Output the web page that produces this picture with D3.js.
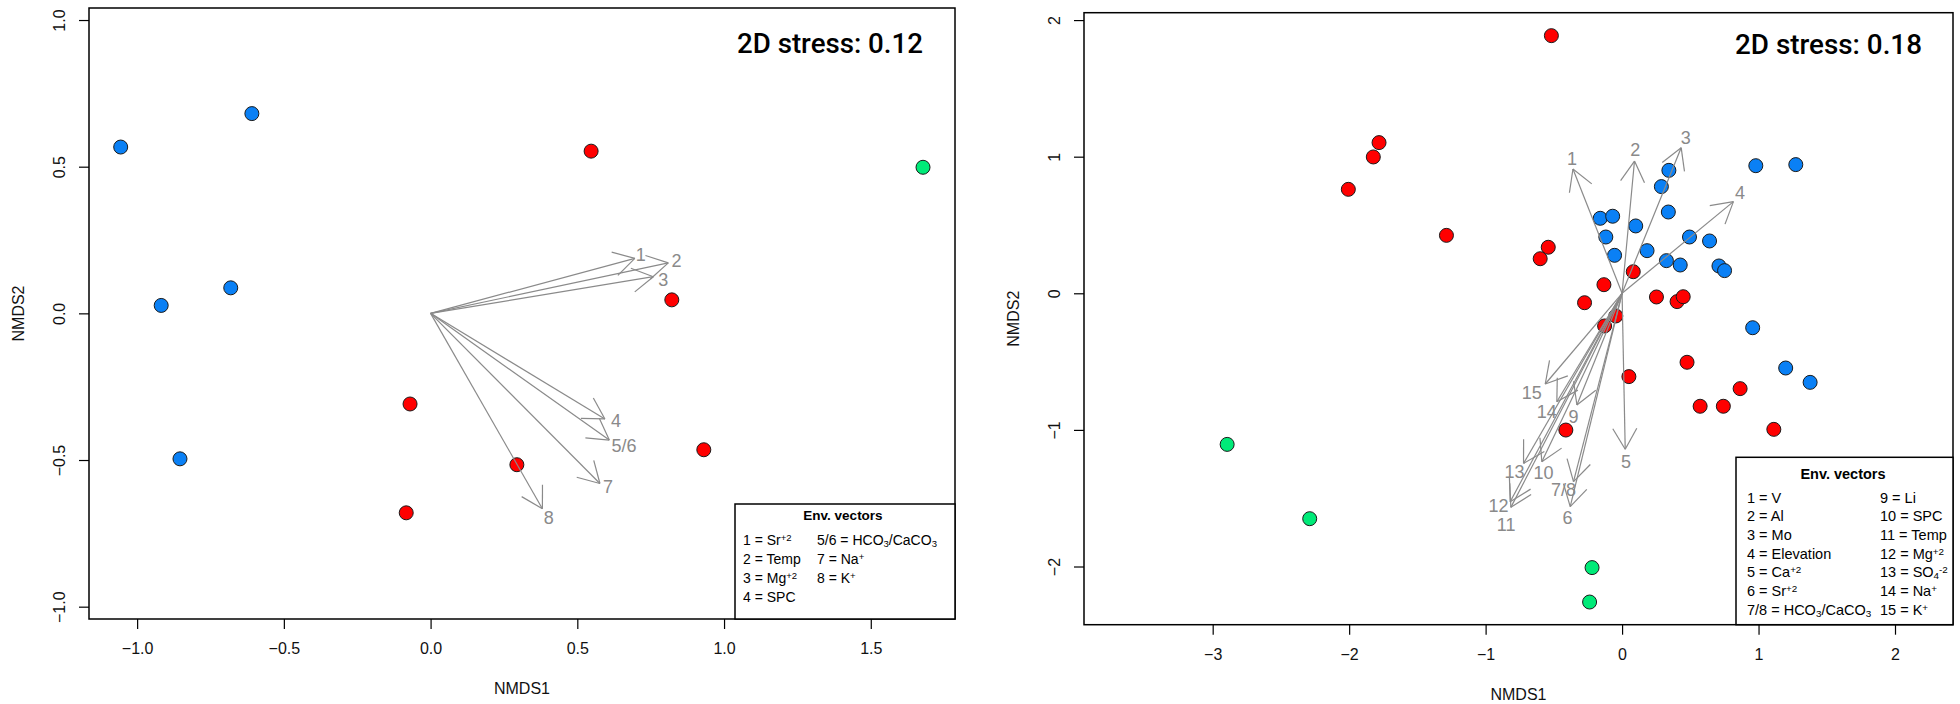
<!DOCTYPE html>
<html lang="en">
<head>
<meta charset="UTF-8">
<title>NMDS ordinations</title>
<script src="https://d3js.org/d3.v7.min.js"></script>
<style>
  body { margin: 0; background: #fff; }
  svg text { font-family: "Liberation Sans", Arial, sans-serif; }
  .tick line { stroke: #000; stroke-width: 1.2; }
  .tick text { font-size: 16px; fill: #111; }
  .axis-title { font-size: 16px; fill: #111; }
  .vec { stroke: #8a8a8a; stroke-width: 1.2; fill: none; }
  .vec-label { fill: #8a8a8a; font-size: 18px; }
  .site { stroke: #1a1a1a; stroke-width: 1; }
  .stress { font-family: Roboto, sans-serif !important; font-weight: 500; font-size: 28px; fill: #000; }
  .leg-title { font-weight: bold; }
</style>
</head>
<body>
<svg id="chart" width="1960" height="704"></svg>
<script>
// ---- left panel (2D stress 0.12) ----
const p1X = [-1.056, -0.609, -0.918, -0.681, -0.854, 0.547, 0.822, -0.070, 0.294, 0.931, -0.083, 1.678];
const p1Y = [0.567, 0.681, 0.027, 0.087, -0.496, 0.553, 0.046, -0.309, -0.516, -0.465, -0.680, 0.498];
const p1Grp = ["b", "b", "b", "b", "b", "r", "r", "r", "r", "r", "r", "g"];

const v1Names = ["1", "2", "3", "4", "5/6", "7", "8"];
const v1X = [0.696, 0.810, 0.759, 0.594, 0.609, 0.577, 0.381];
const v1Y = [0.1875, 0.172, 0.125, -0.360, -0.432, -0.580, -0.666];
// label anchors (data units, as placed by the plot)
const v1LabX = [0.716, 0.838, 0.793, 0.632, 0.659, 0.605, 0.403];
const v1LabY = [0.201, 0.179, 0.114, -0.366, -0.452, -0.591, -0.695];

const p1XTicks = [-1.0, -0.5, 0.0, 0.5, 1.0, 1.5];
const p1YTicks = [-1.0, -0.5, 0.0, 0.5, 1.0];
const p1Leg1 = ["1 = Sr^{+2}", "2 = Temp", "3 = Mg^{+2}", "4 = SPC"];
const p1Leg2 = ["5/6 = HCO_{3}/CaCO_{3}", "7 = Na^{+}", "8 = K^{+}"];

// ---- right panel (2D stress 0.18) ----
const p2X = [-0.518, -1.781, -1.823, -2.006, -1.287, -0.541, -0.600, 0.082, -0.133, -0.275, 0.252, 0.403, 0.448, -0.046, -0.128,
             0.476, 0.050, 0.865, 0.572, 0.742, 1.112, -0.412,
             0.343, 0.288, 0.980, 1.273, 0.339, -0.160, -0.069, 0.100, -0.119, 0.494, 0.641, 0.183, -0.055, 0.325, 0.426, 0.710, 0.751, 0.957, 1.199, 1.378,
             -2.894, -2.289, -0.220, -0.238];
const p2Y = [1.886, 1.103, 0.998, 0.761, 0.424, 0.337, 0.253, 0.158, 0.063, -0.069, -0.027, -0.061, -0.025, -0.166, -0.239,
             -0.505, -0.610, -0.698, -0.827, -0.827, -0.996, -1.001,
             0.900, 0.781, 0.934, 0.942, 0.595, 0.549, 0.564, 0.493, 0.412, 0.412, 0.383, 0.312, 0.278, 0.239, 0.207, 0.200, 0.166, -0.252, -0.547, -0.652,
             -1.106, -1.650, -2.008, -2.260];
const p2Grp = ["r", "r", "r", "r", "r", "r", "r", "r", "r", "r", "r", "r", "r", "r", "r",
               "r", "r", "r", "r", "r", "r", "r",
               "b", "b", "b", "b", "b", "b", "b", "b", "b", "b", "b", "b", "b", "b", "b", "b", "b", "b", "b", "b",
               "g", "g", "g", "g"];

const v2Names = ["1", "2", "3", "4", "5", "6", "7/8", "9", "10", "11", "12", "13", "14", "15"];
const v2X = [-0.360, 0.091, 0.433, 0.816, 0.023, -0.380, -0.356, -0.331, -0.588, -0.815, -0.820, -0.722, -0.478, -0.563];
const v2Y = [0.910, 0.968, 1.066, 0.671, -1.142, -1.562, -1.379, -0.818, -1.233, -1.567, -1.526, -1.245, -0.794, -0.664];
const v2LabX = [-0.366, 0.096, 0.467, 0.865, 0.028, -0.400, -0.429, -0.356, -0.576, -0.849, -0.905, -0.788, -0.551, -0.661];
const v2LabY = [0.988, 1.049, 1.139, 0.736, -1.233, -1.643, -1.440, -0.903, -1.313, -1.690, -1.552, -1.306, -0.867, -0.728];

const p2XTicks = [-3, -2, -1, 0, 1, 2];
const p2YTicks = [-2, -1, 0, 1, 2];
const p2Leg1 = ["1 = V", "2 = Al", "3 = Mo", "4 = Elevation", "5 = Ca^{+2}", "6 = Sr^{+2}", "7/8 = HCO_{3}/CaCO_{3}"];
const p2Leg2 = ["9 = Li", "10 = SPC", "11 = Temp", "12 = Mg^{+2}", "13 = SO_{4}^{-2}", "14 = Na^{+}", "15 = K^{+}"];

const groupColor = { r: "#ff0000", b: "#0a80f5", g: "#00ea78" };

const svg = d3.select("#chart");

// write "Sr^{+2}" / "HCO_{3}" style strings as tspans
function richText(sel, str) {
  str.split(/(\^\{[^}]*\}|_\{[^}]*\})/).filter(s => s.length).forEach(part => {
    const t = sel.append("tspan");
    if (part[0] === "^") {
      t.text(part.slice(2, -1)).attr("baseline-shift", "40%").attr("font-size", "68%");
    } else if (part[0] === "_") {
      t.text(part.slice(2, -1)).attr("baseline-shift", "-22%").attr("font-size", "68%");
    } else {
      t.text(part);
    }
  });
}

function drawPanel(cfg) {
  const x = d3.scaleLinear().domain(cfg.xDom).range([cfg.left, cfg.right]);
  const y = d3.scaleLinear().domain(cfg.yDom).range([cfg.bottom, cfg.top]);
  const g = svg.append("g");

  // axes
  const xa = g.append("g")
    .attr("transform", `translate(0,${cfg.bottom})`)
    .call(d3.axisBottom(x).tickValues(cfg.xTicks).tickFormat(cfg.fmt).tickSize(10).tickSizeOuter(0).tickPadding(14));
  xa.select(".domain").remove();

  const ya = g.append("g")
    .attr("transform", `translate(${cfg.left},0)`)
    .call(d3.axisLeft(y).tickValues(cfg.yTicks).tickFormat(cfg.fmt).tickSize(10).tickSizeOuter(0));
  ya.select(".domain").remove();
  ya.selectAll(".tick text")
    .attr("x", null).attr("dy", null)
    .attr("text-anchor", "middle")
    .attr("transform", "translate(-24,0) rotate(-90)");

  g.append("text").attr("class", "axis-title")
    .attr("x", (cfg.left + cfg.right) / 2).attr("y", cfg.bottom + 75)
    .attr("text-anchor", "middle").text("NMDS1");
  g.append("text").attr("class", "axis-title")
    .attr("text-anchor", "middle")
    .attr("transform", `translate(${cfg.left - 65},${(cfg.top + cfg.bottom) / 2}) rotate(-90)`)
    .text("NMDS2");

  // sites
  g.append("g").selectAll("circle")
    .data(cfg.px.map((v, i) => ({ x: v, y: cfg.py[i], grp: cfg.grp[i] })))
    .join("circle")
    .attr("class", "site")
    .attr("cx", d => x(d.x)).attr("cy", d => y(d.y))
    .attr("r", 7)
    .attr("fill", d => groupColor[d.grp]);

  // env vectors
  const vecs = cfg.vNames.map((n, i) => ({ n, x: cfg.vx[i], y: cfg.vy[i], lx: cfg.lx[i], ly: cfg.ly[i] }));
  const ox = x(0), oy = y(0), headLen = 24, headAng = Math.PI / 6;
  const vg = g.append("g");
  vecs.forEach(d => {
    const tx = x(d.x), ty = y(d.y);
    const a = Math.atan2(ty - oy, tx - ox);
    vg.append("line").attr("class", "vec")
      .attr("x1", ox).attr("y1", oy).attr("x2", tx).attr("y2", ty);
    [-headAng, headAng].forEach(da => {
      vg.append("line").attr("class", "vec")
        .attr("x1", tx).attr("y1", ty)
        .attr("x2", tx - headLen * Math.cos(a + da))
        .attr("y2", ty - headLen * Math.sin(a + da));
    });
    vg.append("text").attr("class", "vec-label")
      .attr("x", x(d.lx)).attr("y", y(d.ly)).attr("dy", "0.36em")
      .attr("text-anchor", "middle").text(d.n);
  });

  // frame
  g.append("rect")
    .attr("x", cfg.left).attr("y", cfg.top)
    .attr("width", cfg.right - cfg.left).attr("height", cfg.bottom - cfg.top)
    .attr("fill", "none").attr("stroke", "#000").attr("stroke-width", 1.5);

  // stress
  g.append("text").attr("class", "stress")
    .attr("x", cfg.stressX).attr("y", cfg.top + cfg.stressDy)
    .attr("textLength", cfg.stressW).attr("lengthAdjust", "spacingAndGlyphs")
    .text(cfg.stress);

  // legend
  const L = cfg.leg;
  g.append("rect")
    .attr("x", L.x0).attr("y", L.y0)
    .attr("width", cfg.right - L.x0).attr("height", cfg.bottom - L.y0)
    .attr("fill", "#fff").attr("stroke", "#000").attr("stroke-width", 1.5);
  g.append("text").attr("class", "leg-title")
    .attr("x", L.titleX).attr("y", L.titleY).attr("dy", "0.36em")
    .attr("text-anchor", "middle").attr("font-size", L.titleSize)
    .text("Env. vectors");
  [cfg.leg1, cfg.leg2].forEach((col, c) => {
    col.forEach((s, i) => {
      const t = g.append("text")
        .attr("x", L.colX[c]).attr("y", L.rowY0 + i * L.rowH).attr("dy", "0.36em")
        .attr("font-size", L.size).attr("fill", "#000");
      richText(t, s);
    });
  });
}

drawPanel({
  left: 89, right: 955, top: 8, bottom: 619,
  xDom: [-1.164, 1.787], yDom: [-1.042, 1.041],
  xTicks: p1XTicks, yTicks: p1YTicks, fmt: d3.format(".1f"),
  px: p1X, py: p1Y, grp: p1Grp,
  vNames: v1Names, vx: v1X, vy: v1Y, lx: v1LabX, ly: v1LabY,
  stress: "2D stress: 0.12", stressX: 737, stressDy: 45, stressW: 186,
  leg: { x0: 735, y0: 504, titleX: 843, titleY: 515, titleSize: 13.5,
         colX: [743, 817], rowY0: 539.5, rowH: 19, size: 14 },
  leg1: p1Leg1, leg2: p1Leg2
});

drawPanel({
  left: 1084, right: 1953, top: 12.7, bottom: 624.7,
  xDom: [-3.943, 2.425], yDom: [-2.426, 2.054],
  xTicks: p2XTicks, yTicks: p2YTicks, fmt: d3.format("d"),
  px: p2X, py: p2Y, grp: p2Grp,
  vNames: v2Names, vx: v2X, vy: v2Y, lx: v2LabX, ly: v2LabY,
  stress: "2D stress: 0.18", stressX: 1735, stressDy: 41.3, stressW: 187,
  leg: { x0: 1736, y0: 457.3, titleX: 1843, titleY: 473.5, titleSize: 14.5,
         colX: [1747, 1880], rowY0: 497.5, rowH: 18.65, size: 14.5 },
  leg1: p2Leg1, leg2: p2Leg2
});
</script>
</body>
</html>
